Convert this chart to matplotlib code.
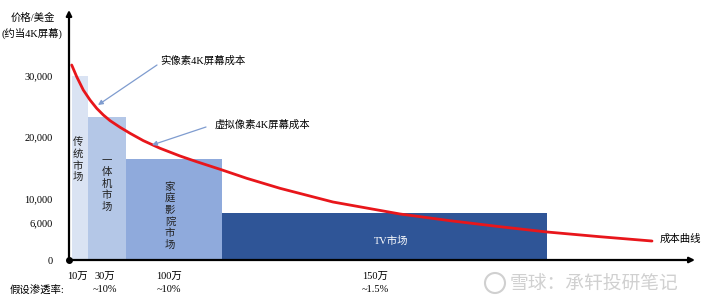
import matplotlib
matplotlib.use("Agg")
import matplotlib.pyplot as plt
from matplotlib.patches import Ellipse

plt.rcParams['font.family'] = ['Liberation Serif', 'Noto Sans CJK SC', 'DejaVu Sans']

# ---------------- data ----------------
markets = ["传统市场", "一体机市场", "家庭影院市场", "TV市场"]
market_price = [30000, 23300, 16400, 7650]          # price level (USD, per 4K screen)
size_labels = ["10万", "30万", "100万", "150万"]
penetration = ["", "~10%", "~10%", "~1.5%"]
ytick_values = [0, 6000, 10000, 20000, 30000]
ytick_labels = ["0", "6,000", "10,000", "20,000", "30,000"]

cost_x = [2.7, 7.7, 14.3, 21, 27.7, 34.3, 41, 51, 61, 74.3, 91, 111, 127.7,
          151, 177.7, 211, 264, 331, 381, 431, 478, 531, 583]
cost_y = [31740, 29840, 27670, 26050, 24690, 23610, 22690, 21610, 20630, 19430,
          18190, 16930, 16000, 14770, 13300, 11670, 9440, 7490, 6400, 5420,
          4560, 3790, 3090]

# ---------------- layout ----------------
W, H = 714, 302
bar_left = [2.7, 18.7, 56.7, 153.0]
bar_width = [16.0, 38.0, 96.3, 325.3]
bar_colors = ["#dae3f3", "#b4c7e7", "#8faadc", "#2f5597"]
txt_colors = ["#222222", "#222222", "#222222", "white"]
txt_pos = [(9, 16300), (38, 12400), (101, 7200), (322, 3100)]
tick_x = [8, 36, 100, 306]

fig = plt.figure(figsize=(W / 100, H / 100), dpi=100)
ax = fig.add_axes([69 / W, 42 / H, 626 / W, 250 / H])
ax.set_xlim(0, 626)
ax.set_ylim(0, 250 / 6.143 * 1000)
for s in ax.spines.values():
    s.set_visible(False)

ax.bar(bar_left, market_price, width=bar_width, align='edge',
       color=bar_colors, edgecolor='none', zorder=1)

for name, (tx, ty), c in zip(markets, txt_pos, txt_colors):
    if name == "TV市场":
        ax.text(tx, ty, name, ha='center', va='center', color=c, fontsize=7.5,
                family=['Liberation Serif', 'Noto Sans CJK SC'])
    else:
        ax.text(tx, ty, "\n".join(name), ha='center', va='center', color=c,
                fontsize=7.5, linespacing=1.2, family=['Noto Sans CJK SC'])

ax.plot(cost_x, cost_y, color='#e8161b', lw=2, zorder=3,
        solid_capstyle='round', solid_joinstyle='round')

# axes arrows
ax.annotate('', xy=(1.0, 0), xytext=(0, 0), xycoords='axes fraction',
            arrowprops=dict(arrowstyle='-|>', color='black', lw=1.6,
                            mutation_scale=8, shrinkA=0, shrinkB=0))
ax.annotate('', xy=(0, 1.0), xytext=(0, 0), xycoords='axes fraction',
            arrowprops=dict(arrowstyle='-|>', color='black', lw=1.6,
                            mutation_scale=8, shrinkA=0, shrinkB=0))
ax.plot([0], [0], 'o', color='black', ms=4, clip_on=False, zorder=5)

ax.set_yticks(ytick_values)
ax.set_yticklabels(ytick_labels, fontsize=7.5)
ax.tick_params(axis='y', length=0, pad=12)
ax.set_xticks(tick_x)
ax.set_xticklabels([a + "\n" + b for a, b in zip(size_labels, penetration)],
                   fontsize=7.5, linespacing=1.5)
ax.tick_params(axis='x', length=0, pad=9)

fig.text(10 / W, 1 - 291 / H, "假设渗透率:", fontsize=7.5, va='center', ha='left')
fig.text(33 / W, 1 - 18 / H, "价格/美金", fontsize=7.5, va='center', ha='center')
fig.text(1 / W, 1 - 33 / H, "(约当4K屏幕)", fontsize=7.5, va='center', ha='left')

# annotations
arrow_kw = dict(arrowstyle='-|>', color='#7f9ccf', lw=0.9, mutation_scale=7,
                shrinkA=0, shrinkB=0)
fig.text(160 / W, 1 - 61 / H, '实像素4K屏幕成本', fontsize=7.5, va='center', ha='left')
ax.annotate('', xy=(98, H - 105), xytext=(157, H - 65),
            xycoords='figure pixels', textcoords='figure pixels', arrowprops=arrow_kw)
fig.text(215 / W, 1 - 125 / H, '虚拟像素4K屏幕成本', fontsize=7.5, va='center', ha='left')
ax.annotate('', xy=(152, H - 145), xytext=(206, H - 127),
            xycoords='figure pixels', textcoords='figure pixels', arrowprops=arrow_kw)
fig.text(660 / W, 1 - 239 / H, "成本曲线", fontsize=7.5, va='center', ha='left')

# watermark
fig.text(510 / W, 1 - 283 / H, "雪球：承轩投研笔记", fontsize=13.5, color='#d0d0d0',
         va='center', ha='left', family=['Noto Sans CJK SC'])
fig.patches.append(Ellipse((495 / W, 1 - 283 / H), 20 / W, 20 / H,
                           transform=fig.transFigure, fill=False, ec='#d0d0d0', lw=1.5))

fig.savefig("out.png", dpi=100)
